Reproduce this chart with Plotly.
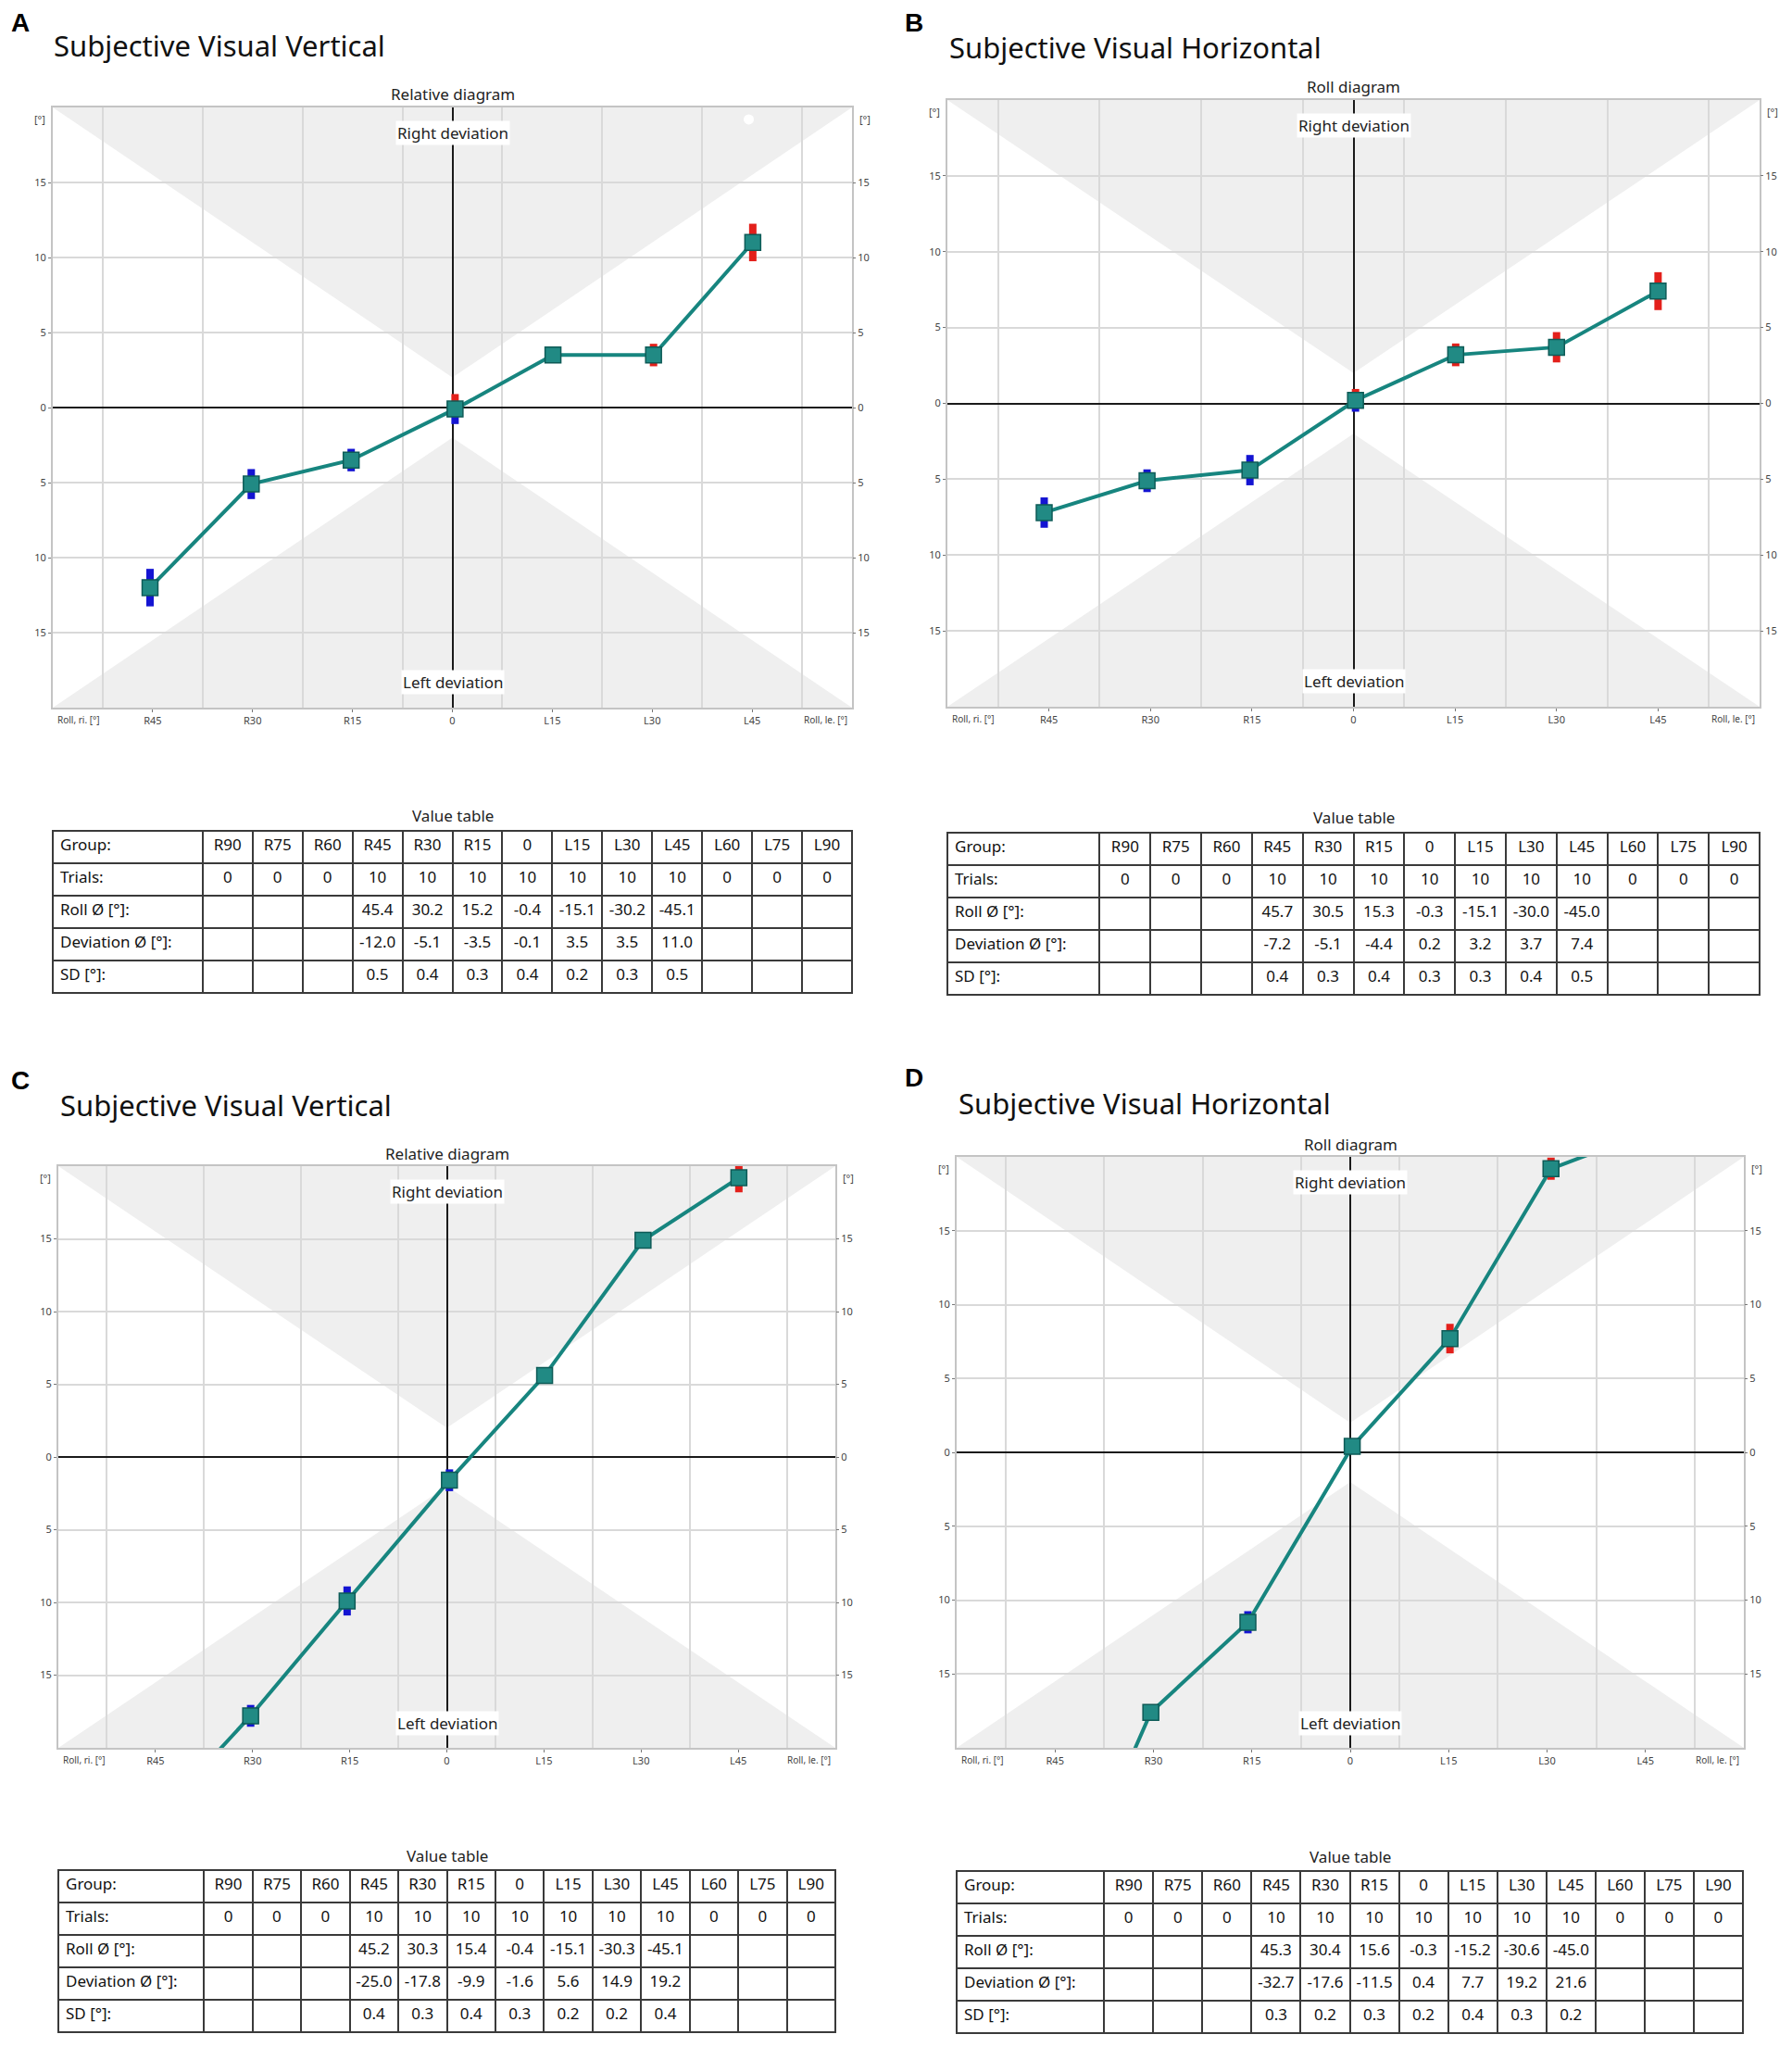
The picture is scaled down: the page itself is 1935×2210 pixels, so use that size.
import plotly.graph_objects as go

W, H = 1935, 2210
OFF = 8  # page body margin of the html page

# table columns and axis labels
groups = ["R90", "R75", "R60", "R45", "R30", "R15", "0", "L15", "L30", "L45", "L60", "L75", "L90"]
measured = ["R45", "R30", "R15", "0", "L15", "L30", "L45"]
x_tick_vals = [-45, -30, -15, 0, 15, 30, 45]
x_tick_text = ["R45", "R30", "R15", "0", "L15", "L30", "L45"]
y_tick_vals = [15, 10, 5, 0, -5, -10, -15]
y_tick_text = ["15", "10", "5", "0", "5", "10", "15"]
trials = [0, 0, 0, 10, 10, 10, 10, 10, 10, 10, 0, 0, 0]

# A - SVV, relative
roll_a = [45.4, 30.2, 15.2, -0.4, -15.1, -30.2, -45.1]
dev_a = [-12.0, -5.1, -3.5, -0.1, 3.5, 3.5, 11.0]
sd_a = [0.5, 0.4, 0.3, 0.4, 0.2, 0.3, 0.5]
# B - SVH, roll
roll_b = [45.7, 30.5, 15.3, -0.3, -15.1, -30.0, -45.0]
dev_b = [-7.2, -5.1, -4.4, 0.2, 3.2, 3.7, 7.4]
sd_b = [0.4, 0.3, 0.4, 0.3, 0.3, 0.4, 0.5]
# C - SVV, relative
roll_c = [45.2, 30.3, 15.4, -0.4, -15.1, -30.3, -45.1]
dev_c = [-25.0, -17.8, -9.9, -1.6, 5.6, 14.9, 19.2]
sd_c = [0.4, 0.3, 0.4, 0.3, 0.2, 0.2, 0.4]
# D - SVH, roll
roll_d = [45.3, 30.4, 15.6, -0.3, -15.2, -30.6, -45.0]
dev_d = [-32.7, -17.6, -11.5, 0.4, 7.7, 19.2, 21.6]
sd_d = [0.3, 0.2, 0.3, 0.2, 0.4, 0.3, 0.2]

# stray white dot seen in panel A
dot_a_x = [44.5]
dot_a_y = [19.2]

X_MAX, Y_MAX = 60, 20
APEX = 2          # bow-tie normal range half height at 0
SD_SCALE = 2.5

TEAL = "#17857f"
FONT = "Noto Sans"

panels = [
    dict(letter="A", title="Subjective Visual Vertical", diagram="Relative diagram",
         roll=roll_a, dev=dev_a, sd=sd_a,
         box=(57, 920, 116, 764), table=(897, 1074), title_xy=(56, 49), letter_xy=(10, 25)),
    dict(letter="B", title="Subjective Visual Horizontal", diagram="Roll diagram",
         roll=roll_b, dev=dev_b, sd=sd_b,
         box=(1023, 1900, 108, 763), table=(899, 1076), title_xy=(1023, 51), letter_xy=(975, 25)),
    dict(letter="C", title="Subjective Visual Vertical", diagram="Relative diagram",
         roll=roll_c, dev=dev_c, sd=sd_c,
         box=(63, 902, 1259, 1887), table=(2019, 2194), title_xy=(63, 1193), letter_xy=(10, 1166)),
    dict(letter="D", title="Subjective Visual Horizontal", diagram="Roll diagram",
         roll=roll_d, dev=dev_d, sd=sd_d,
         box=(1033, 1883, 1249, 1887), table=(2020, 2195), title_xy=(1033, 1191), letter_xy=(975, 1163)),
]


def px(x):
    return (x - OFF) / W


def py(y):
    return 1 - (y - OFF) / H


def sd_segments(xs, dev, sd):
    red_x, red_y, blue_x, blue_y = [], [], [], []
    for xi, d, s in zip(xs, dev, sd):
        for end in (d + SD_SCALE * s, d - SD_SCALE * s):
            if end > 0:
                red_x += [xi, xi, None]
                red_y += [d, end, None]
            else:
                blue_x += [xi, xi, None]
                blue_y += [d, end, None]
    return red_x, red_y, blue_x, blue_y


fig = go.Figure()
annotations = []
shapes = []

for i, p in enumerate(panels, start=1):
    sfx = "" if i == 1 else str(i)
    xref, yref = "x" + sfx, "y" + sfx
    x0, x1, y0, y1 = p["box"]
    xs = [-r for r in p["roll"]]

    # error bars
    rx, ry, bx, by = sd_segments(xs, p["dev"], p["sd"])
    fig.add_trace(go.Scatter(x=rx, y=ry, mode="lines", line=dict(color="#e3201b", width=8),
                             xaxis=xref, yaxis=yref, showlegend=False, hoverinfo="skip"))
    fig.add_trace(go.Scatter(x=bx, y=by, mode="lines", line=dict(color="#1414d2", width=8),
                             xaxis=xref, yaxis=yref, showlegend=False, hoverinfo="skip"))
    fig.add_trace(go.Scatter(
        x=xs, y=p["dev"], mode="lines+markers", text=measured,
        line=dict(color=TEAL, width=4),
        marker=dict(symbol="square", size=17, color="#218a84",
                    line=dict(color="#0e5b57", width=1.5)),
        xaxis=xref, yaxis=yref, showlegend=False))
    if i == 1:
        fig.add_trace(go.Scatter(x=dot_a_x, y=dot_a_y, mode="markers",
                                 marker=dict(size=11, color="white"),
                                 xaxis=xref, yaxis=yref, showlegend=False, hoverinfo="skip"))
    # right-side tick labels
    fig.add_trace(go.Scatter(x=[0], y=[0], mode="markers", marker=dict(opacity=0),
                             xaxis=xref, yaxis="y" + str(i + 4), showlegend=False, hoverinfo="skip"))

    dom_x = [px(x0), px(x1)]
    dom_y = [py(y1), py(y0)]
    fig.update_layout(**{
        "xaxis" + sfx: dict(
            domain=dom_x, anchor=yref, range=[-X_MAX, X_MAX],
            tickvals=x_tick_vals, ticktext=x_tick_text,
            ticks="outside", ticklen=3, tickcolor="#777",
            tickfont=dict(size=11, color="#444", family=FONT),
            showgrid=False, zeroline=True, zerolinecolor="#1a1a1a", zerolinewidth=1.5,
            minor=dict(tick0=7.5, dtick=15, showgrid=True, gridcolor="#d9d9d9", gridwidth=1.5, ticks=""),
            showline=True, mirror=True, linecolor="#c4c4c4", linewidth=2, fixedrange=True),
        "yaxis" + sfx: dict(
            domain=dom_y, anchor=xref, range=[-Y_MAX, Y_MAX],
            tickvals=y_tick_vals, ticktext=y_tick_text,
            ticks="outside", ticklen=3, tickcolor="#777",
            tickfont=dict(size=11, color="#444", family=FONT),
            showgrid=True, gridcolor="#d9d9d9", gridwidth=1.5,
            zeroline=True, zerolinecolor="#1a1a1a", zerolinewidth=1.5,
            showline=True, mirror=True, linecolor="#c4c4c4", linewidth=2, fixedrange=True),
        "yaxis" + str(i + 4): dict(
            overlaying=yref, side="right", anchor=xref, range=[-Y_MAX, Y_MAX],
            tickvals=y_tick_vals, ticktext=y_tick_text,
            ticks="outside", ticklen=3, tickcolor="#777",
            tickfont=dict(size=11, color="#444", family=FONT),
            showgrid=False, zeroline=False, showline=False, fixedrange=True),
    })

    # grey bow-tie regions
    for s in (1, -1):
        shapes.append(dict(
            type="path", xref=xref, yref=yref, layer="below",
            path=f"M {-X_MAX},{s * Y_MAX} L 0,{s * APEX} L {X_MAX},{s * Y_MAX} Z",
            fillcolor="#efefef", line=dict(width=0)))

    cx = (x0 + x1) / 2
    lab = dict(font=dict(family=FONT, size=17, color="#222"), showarrow=False,
               xref="paper", yref="paper")
    annotations += [
        dict(text=p["letter"], x=px(p["letter_xy"][0]), y=py(p["letter_xy"][1]),
             xanchor="left", yanchor="middle", xref="paper", yref="paper", showarrow=False,
             font=dict(family="Liberation Sans", size=28, color="black", weight="bold")),
        dict(text=p["title"], x=px(p["title_xy"][0]), y=py(p["title_xy"][1]),
             xanchor="left", yanchor="middle", xref="paper", yref="paper", showarrow=False,
             font=dict(family=FONT, size=31, color="#111")),
        dict(lab, text=p["diagram"], x=px(cx), y=py(y0 - 14), xanchor="center", yanchor="middle"),
        dict(lab, text="Right deviation", x=0, xref=xref, y=py(y0 + 27), xanchor="center",
             yanchor="middle", bgcolor="white"),
        dict(lab, text="Left deviation", x=0, xref=xref, y=py(y1 - 27), xanchor="center",
             yanchor="middle", bgcolor="white"),
        dict(lab, text="[°]", x=px(x0 - 6), y=py(y0 + 12), xanchor="right", yanchor="middle",
             font=dict(family=FONT, size=11, color="#444")),
        dict(lab, text="[°]", x=px(x1 + 6), y=py(y0 + 12), xanchor="left", yanchor="middle",
             font=dict(family=FONT, size=11, color="#444")),
        dict(lab, text="Roll, ri. [°]", x=px(x0 + 3), y=py(y1 + 13), xanchor="left", yanchor="middle",
             font=dict(family=FONT, size=10, color="#444")),
        dict(lab, text="Roll, le. [°]", x=px(x1 - 3), y=py(y1 + 13), xanchor="right", yanchor="middle",
             font=dict(family=FONT, size=10, color="#444")),
        dict(lab, text="Value table", x=px(cx), y=py(p["table"][0] - 16), xanchor="center",
             yanchor="middle"),
    ]

    # value table
    cols = [["Trials:", "Roll Ø [°]:", "Deviation Ø [°]:", "SD [°]:"]]
    for g, t in zip(groups, trials):
        if g in measured:
            k = measured.index(g)
            cols.append([str(t), f"{p['roll'][k]:.1f}", f"{p['dev'][k]:.1f}", f"{p['sd'][k]:.1f}"])
        else:
            cols.append([str(t), "", "", ""])
    t0, t1 = p["table"]
    fig.add_trace(go.Table(
        domain=dict(x=dom_x, y=[py(t1 + 2), py(t0)]),
        columnwidth=[3] + [1] * len(groups),
        header=dict(values=["Group:"] + groups, height=35,
                    align=["left"] + ["center"] * len(groups),
                    fill_color="white", line=dict(color="#3a3a3a", width=2),
                    font=dict(family=FONT, size=17, color="#111")),
        cells=dict(values=cols, height=35,
                   align=["left"] + ["center"] * len(groups),
                   fill_color="white", line=dict(color="#3a3a3a", width=2),
                   font=dict(family=FONT, size=17, color="#111")),
    ))

fig.update_layout(
    width=W, height=H, autosize=False,
    margin=dict(l=0, r=0, t=0, b=0),
    paper_bgcolor="white", plot_bgcolor="white",
    annotations=annotations, shapes=shapes,
    font=dict(family=FONT),
)

fig.write_html("out.html")
